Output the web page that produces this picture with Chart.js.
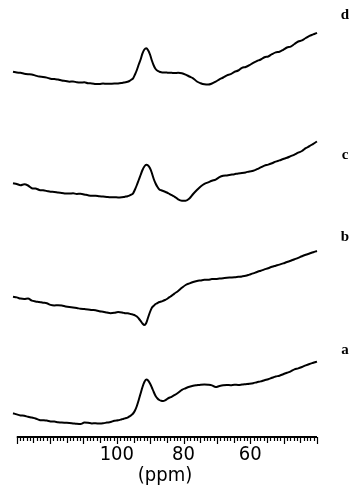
<!DOCTYPE html>
<html>
<head>
<meta charset="utf-8">
<script src="https://cdn.jsdelivr.net/npm/chart.js@4/dist/chart.umd.min.js"></script>
<style>
  html, body { margin: 0; padding: 0; background: #fff; }
  #wrap { width: 350px; height: 486px; }
</style>
</head>
<body>
<div id="wrap"><canvas id="spectra" width="350" height="486"></canvas></div>
<script>
// Chemical shift of each sampled point (ppm), sampled more finely across the main resonance
const ppm = [
  131.13,130,128.88,127.75,126.63,125.5,124.38,123.25,122.13,121,119.88,118.75,117.63,116.5,115.38,114.25,113.13,112,110.88,109.75,108.63,107.5,106.38,105.25,104.13,103,101.88,100.75,99.63,
  98.5,97.94,97.38,96.81,96.25,95.69,95.13,94.56,94,93.44,92.88,92.31,91.75,91.19,90.63,90.06,89.5,88.94,88.38,87.81,87.25,86.69,86.13,85.56,85,84.44,83.88,83.31,82.75,
  81.63,80.5,79.38,78.25,77.13,76,74.88,73.75,72.63,71.5,70.38,69.25,68.13,67,65.88,64.75,63.63,62.5,61.38,60.25,59.13,58,56.88,55.75,54.63,53.5,52.38,51.25,50.13,49,47.88,46.75,45.63,44.5,43.38,42.25,41.13,40
];

// Signal intensity of each spectrum (arbitrary units, relative to its own baseline)
const spectrumA = [
  3.8,2.6,1.6,1.2,0.2,-0.6,-1.5,-2.9,-3.2,-3.6,-4.4,-4.6,-5.2,-5.6,-5.8,-6.0,-6.4,-6.8,-7.0,-5.6,-5.8,-6.4,-6.3,-6.5,-6.3,-5.6,-5.0,-3.8,-3.3,
  -2.3,-1.8,-1.2,-0.6,0.6,1.8,3.5,6.5,11.0,17.0,23.5,30.0,35.0,37.5,36.5,33.5,29.5,25.0,21.0,18.5,17.0,16.2,16.0,16.6,17.8,19.0,19.8,20.8,21.8,
  24.2,27.2,28.8,30.2,31.2,31.8,32.3,32.4,32.2,31.6,29.9,31.0,31.8,32.0,31.8,32.2,32.1,32.4,32.8,33.2,33.8,34.8,35.6,36.8,37.8,39.2,40.5,41.3,42.8,44.2,45.6,47.6,48.6,50.0,51.6,53.0,54.2,55.4
];
const spectrumB = [
  5.3,4.6,3.4,3.0,3.4,1.4,0.6,0.0,-0.7,-1.2,-2.9,-3.4,-3.2,-3.6,-4.4,-5.0,-5.4,-6.0,-6.8,-7.1,-7.4,-8.0,-8.3,-9.3,-9.7,-10.5,-11.2,-10.8,-10.0,
  -10.4,-10.9,-11.3,-11.2,-11.6,-12.1,-12.6,-13.3,-14.5,-16.5,-18.8,-21.5,-23.0,-21.0,-15.5,-10.0,-5.8,-3.8,-2.0,-1.0,0.0,0.5,1.2,2.0,3.0,4.3,5.5,7.0,8.4,
  11.0,14.2,17.0,18.6,20.0,21.0,21.6,22.2,22.3,22.9,23.0,23.4,23.8,24.2,24.5,24.8,25.2,25.6,26.2,27.4,28.6,30.0,31.3,32.6,33.8,35.2,36.3,37.4,38.6,40.0,41.2,42.7,44.2,45.8,47.2,48.5,49.8,51.0
];
const spectrumC = [
  3.8,3.0,1.8,2.7,1.5,-1.2,-1.6,-2.9,-3.3,-4.0,-4.8,-4.9,-5.6,-5.9,-6.4,-6.6,-6.3,-6.9,-6.8,-7.5,-8.3,-8.8,-8.7,-9.3,-9.6,-10.0,-10.3,-10.2,-10.4,
  -10.2,-10.0,-9.6,-9.2,-8.6,-7.6,-6.3,-2.5,2.0,7.0,12.0,17.0,20.5,22.2,21.5,18.7,14.0,8.0,3.5,0.0,-2.5,-3.3,-4.0,-4.7,-5.5,-6.5,-7.6,-8.6,-9.6,
  -12.3,-13.7,-13.8,-11.6,-7.0,-3.0,0.6,3.2,4.6,6.2,7.4,9.8,11.2,11.6,12.2,12.8,13.6,14.0,14.6,15.6,16.2,17.8,19.6,21.4,22.4,23.8,25.4,26.6,28.0,29.2,30.8,32.4,34.3,36.0,38.8,40.8,43.2,45.5
];
const spectrumD = [
  0.3,-0.5,-0.8,-1.7,-2.2,-2.5,-3.6,-4.6,-4.9,-5.6,-6.7,-7.1,-7.5,-8.6,-9.0,-9.7,-9.4,-10.3,-10.6,-10.3,-11.3,-11.4,-11.9,-12.0,-11.6,-11.8,-11.7,-11.6,-11.4,
  -10.9,-10.6,-10.3,-9.8,-9.0,-7.8,-6.3,-2.5,2.0,7.5,12.5,18.7,22.5,23.8,21.8,17.5,11.5,6.5,3.0,1.2,0.3,-0.2,-0.4,-0.4,-0.6,-0.8,-0.8,-0.9,-1.0,
  -0.8,-1.2,-2.6,-4.5,-6.3,-9.5,-11.2,-12.3,-12.6,-11.5,-9.6,-7.4,-5.5,-3.3,-2.2,0.2,1.5,4.2,5.0,6.8,9.2,11.0,12.5,14.8,15.5,17.8,19.6,20.3,22.2,24.5,25.4,28.0,30.5,31.6,34.0,36.2,37.6,39.2
];

const sampleNames = ['a', 'b', 'c', 'd'];
const spectra = [spectrumA, spectrumB, spectrumC, spectrumD];
// vertical stacking offset of each spectrum, and the height at which its letter sits
const stackOffset = [20, 135, 250, 365];
const letterLevel = [67, 65, 32, 57];

// labelled shifts and the extent of the ruled ppm axis
const labelledShifts = [100, 80, 60];
const axisStart = 130;
const axisEnd = 40;

const numFont = "'Liberation Sans Narrow', 'DejaVu Sans Condensed', 'Liberation Sans', sans-serif";

// Ruled ppm axis (1 ppm minor ticks) and sample letters
const ppmRuler = {
  id: 'ppmRuler',
  afterDraw(chart) {
    const { ctx, chartArea } = chart;
    const xs = chart.scales.x, ys = chart.scales.y;
    const y0 = chartArea.bottom;
    ctx.save();
    ctx.strokeStyle = '#000';
    ctx.lineWidth = 2;
    ctx.beginPath();
    ctx.moveTo(xs.getPixelForValue(axisStart), y0);
    ctx.lineTo(xs.getPixelForValue(axisEnd), y0);
    ctx.stroke();
    ctx.lineWidth = 1.2;
    ctx.beginPath();
    for (let v = axisEnd; v <= axisStart; v++) {
      const px = Math.round(xs.getPixelForValue(v)) + 0.5;
      const len = v % 10 === 0 ? 7 : (v % 5 === 0 ? 6 : 4);
      ctx.moveTo(px, y0);
      ctx.lineTo(px, y0 + len);
    }
    ctx.stroke();

    ctx.fillStyle = '#000';
    ctx.font = "bold 15px 'Liberation Serif', 'DejaVu Serif', serif";
    ctx.textAlign = 'center';
    ctx.textBaseline = 'middle';
    sampleNames.forEach((name, i) => {
      ctx.fillText(name, chartArea.right + 28, ys.getPixelForValue(stackOffset[i] + letterLevel[i]));
    });
    ctx.restore();
  }
};

const datasets = spectra.map((values, k) => ({
  label: sampleNames[k],
  data: values.map((v, i) => ({ x: ppm[i], y: stackOffset[k] + v })),
  borderColor: '#000',
  borderWidth: 2,
  pointRadius: 0,
  fill: false,
  cubicInterpolationMode: 'monotone',
  clip: false
}));

new Chart(document.getElementById('spectra'), {
  type: 'line',
  data: { datasets },
  options: {
    responsive: false,
    animation: false,
    devicePixelRatio: 1,
    layout: { padding: { left: 13, right: 33, top: 0, bottom: 0 } },
    plugins: { legend: { display: false }, tooltip: { enabled: false } },
    scales: {
      x: {
        type: 'linear',
        reverse: true,
        min: 40,
        max: 131.13,
        afterBuildTicks: (scale) => { scale.ticks = labelledShifts.map(v => ({ value: v })); },
        grid: { display: false, drawTicks: false },
        border: { display: false },
        ticks: {
          padding: 6,
          color: '#000',
          maxRotation: 0,
          autoSkip: false,
          font: { family: numFont, size: 20, lineHeight: 1.2 }
        },
        title: {
          display: true,
          text: '(ppm)',
          color: '#000',
          font: { family: numFont, size: 20, lineHeight: 1 },
          padding: { top: -7, bottom: 0 }
        }
      },
      y: { display: false, min: 0, max: 437 }
    }
  },
  plugins: [ppmRuler]
});
</script>
</body>
</html>
